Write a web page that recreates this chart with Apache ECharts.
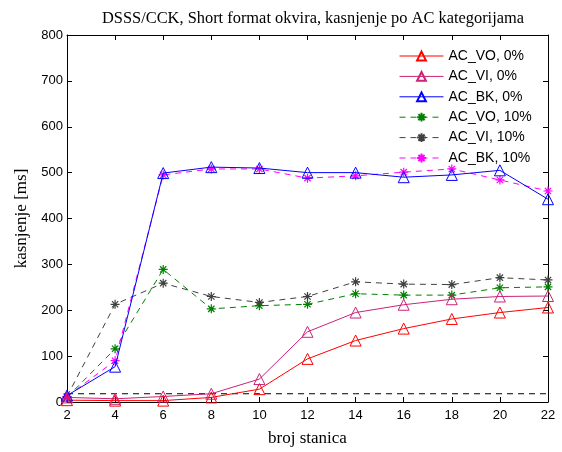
<!DOCTYPE html>
<html>
<head>
<meta charset="utf-8">
<script src="https://cdn.jsdelivr.net/npm/echarts@6/dist/echarts.min.js"></script>
<style>html,body{margin:0;padding:0;background:#fff}#c{width:562px;height:452px}</style>
</head>
<body>
<div id="c"></div>
<script>
var stations = [2, 4, 6, 8, 10, 12, 14, 16, 18, 20, 22];
var yTicks = [0, 100, 200, 300, 400, 500, 600, 700, 800];
var acVo0  = [4, 3, 3, 10, 28, 94, 134, 160, 181, 195, 206];
var acVi0  = [10, 7, 12, 18, 50, 153, 195, 212, 224, 230, 231];
var acBk0  = [14, 77, 499, 512, 510, 500, 500, 490, 495, 505, 442];
var acVo10 = [10, 116, 289, 203, 210, 213, 236, 233, 233, 249, 251];
var acVi10 = [12, 213, 259, 230, 217, 230, 262, 257, 256, 271, 266];
var acBk10 = [12, 90, 495, 508, 508, 488, 493, 501, 508, 484, 460];
var baseLine = [18, 18, 18, 18, 18, 18, 18, 18, 18, 18, 18];
var names = ['AC_VO, 0%', 'AC_VI, 0%', 'AC_BK, 0%', 'AC_VO, 10%', 'AC_VI, 10%', 'AC_BK, 10%'];

function pairs(v) { return stations.map(function (x, i) { return [x, v[i]]; }); }
var star = 'path://M0,5L10,5M5,0L5,10M1.5,1.5L8.5,8.5M8.5,1.5L1.5,8.5';

function tri(name, vals, col) {
  return { name: name, type: 'line', data: pairs(vals), symbol: 'triangle', symbolSize: 11,
    color: col, lineStyle: { color: col, width: 1 },
    itemStyle: { color: 'rgba(255,255,255,0)', borderColor: col, borderWidth: 1 },
    emphasis: { disabled: true }, animation: false, z: 3 };
}
function st(name, vals, col) {
  return { name: name, type: 'line', data: pairs(vals), symbol: star, symbolSize: 9,
    color: col, lineStyle: { color: col, width: 1, type: [6, 5] },
    itemStyle: { color: 'rgba(255,255,255,0)', borderColor: col, borderWidth: 1.2 },
    emphasis: { disabled: true }, animation: false, z: 2 };
}
var sans = 'Liberation Sans, Arial, sans-serif';
var serif = 'Liberation Serif, Times New Roman, serif';
var chart = echarts.init(document.getElementById('c'), null, { renderer: 'canvas' });
chart.setOption({
  backgroundColor: '#fff',
  animation: false,
  title: { text: 'DSSS/CCK, Short format okvira, kasnjenje po AC kategorijama', left: 308, top: 6, textAlign: 'center',
    textStyle: { fontFamily: serif, fontSize: 16.4, fontWeight: 'normal', color: '#000' } },
  grid: { left: 67, right: 14, top: 35, bottom: 47 },
  legend: { data: names, orient: 'vertical', left: 395, top: 47, itemWidth: 44, itemHeight: 11, itemGap: 6.4,
    lineStyle: { width: 1 },
    textStyle: { fontFamily: sans, fontSize: 14, color: '#000', padding: [0, 0, 0, 0] }, padding: [2, 4, 2, 4] },
  xAxis: [
    { type: 'value', min: 2, max: 22, interval: 2, position: 'bottom',
      name: 'broj stanica', nameLocation: 'middle', nameGap: 28,
      nameTextStyle: { fontFamily: serif, fontSize: 17, color: '#000' },
      axisLine: { onZero: false, lineStyle: { color: '#000', width: 1 } },
      axisTick: { inside: true, length: 5, lineStyle: { color: '#000' } },
      axisLabel: { fontFamily: sans, fontSize: 13, color: '#000', margin: 7 },
      splitLine: { show: false } },
    { type: 'value', min: 2, max: 22, interval: 2, position: 'top',
      axisLine: { onZero: false, lineStyle: { color: '#000', width: 1 } },
      axisTick: { inside: true, length: 5, lineStyle: { color: '#000' } },
      axisLabel: { show: false }, splitLine: { show: false } }
  ],
  yAxis: [
    { type: 'value', min: 0, max: 800, interval: 100, position: 'left',
      name: 'kasnjenje [ms]', nameLocation: 'middle', nameGap: 32,
      nameTextStyle: { fontFamily: serif, fontSize: 17, color: '#000' },
      axisLine: { show: true, onZero: false, lineStyle: { color: '#000', width: 1 } },
      axisTick: { show: true, inside: true, length: 5, lineStyle: { color: '#000' } },
      axisLabel: { fontFamily: sans, fontSize: 13, color: '#000', margin: 4,
        formatter: function (v) { return yTicks.indexOf(v) >= 0 ? String(v) : ''; } },
      splitLine: { show: false } },
    { type: 'value', min: 0, max: 800, interval: 100, position: 'right',
      axisLine: { show: true, onZero: false, lineStyle: { color: '#000', width: 1 } },
      axisTick: { show: true, inside: true, length: 5, lineStyle: { color: '#000' } },
      axisLabel: { show: false }, splitLine: { show: false } }
  ],
  series: [
    { name: 'baseline', type: 'line', data: pairs(baseLine), symbol: 'none', color: '#000',
      lineStyle: { color: '#000', width: 1, type: [6, 5] }, emphasis: { disabled: true }, z: 1 },
    tri(names[0], acVo0, '#ff0000'),
    tri(names[1], acVi0, '#cc2277'),
    tri(names[2], acBk0, '#0000ff'),
    st(names[3], acVo10, '#008000'),
    st(names[4], acVi10, '#404040'),
    st(names[5], acBk10, '#ff00ff')
  ]
});
</script>
</body>
</html>
